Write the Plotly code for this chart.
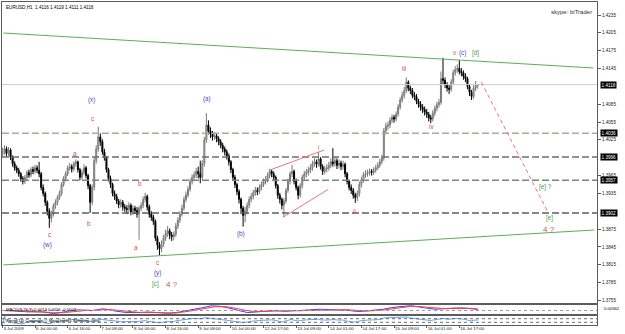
import plotly.graph_objects as go
import pandas as pd

W, H = 625, 334

# ---------------- data (EURUSD H1) ----------------
bar_open = [
 1.4000, 1.4005, 1.4010, 1.4002, 1.4008, 1.3996, 1.3985, 1.3978, 1.3974, 1.3968,
 1.3960, 1.3955, 1.3962, 1.3970, 1.3966, 1.3975, 1.3972, 1.3978, 1.3974, 1.3968,
 1.3945, 1.3935, 1.3920, 1.3905, 1.3893, 1.3900, 1.3914, 1.3920, 1.3928, 1.3935,
 1.3950, 1.3960, 1.3968, 1.3978, 1.3980, 1.3976, 1.3985, 1.3988, 1.3975, 1.3962,
 1.3970, 1.3978, 1.3965, 1.3948, 1.3920, 1.3945, 1.3990, 1.4010, 1.4030, 1.4022,
 1.4005, 1.3995, 1.3975, 1.3960, 1.3950, 1.3935, 1.3930, 1.3922, 1.3916, 1.3920,
 1.3912, 1.3910, 1.3908, 1.3915, 1.3904, 1.3910, 1.3906, 1.3900, 1.3910, 1.3915,
 1.3925, 1.3930, 1.3912, 1.3900, 1.3895, 1.3888, 1.3860, 1.3848, 1.3842, 1.3850,
 1.3860, 1.3868, 1.3872, 1.3865, 1.3862, 1.3866, 1.3880, 1.3890, 1.3900, 1.3910,
 1.3925, 1.3932, 1.3942, 1.3955, 1.3962, 1.3966, 1.3972, 1.3968, 1.3962, 1.3985,
 1.4025, 1.4050, 1.4040, 1.4035, 1.4030, 1.4032, 1.4027, 1.4022, 1.4016, 1.4010,
 1.4005, 1.3998, 1.3988, 1.3975, 1.3962, 1.3950, 1.3938, 1.3925, 1.3910, 1.3898,
 1.3905, 1.3915, 1.3925, 1.3930, 1.3936, 1.3940, 1.3938, 1.3945, 1.3950, 1.3955,
 1.3958, 1.3965, 1.3972, 1.3968, 1.3962, 1.3948, 1.3932, 1.3925, 1.3915, 1.3922,
 1.3940, 1.3955, 1.3968, 1.3972, 1.3955, 1.3945, 1.3932, 1.3948, 1.3962, 1.3968,
 1.3970, 1.3974, 1.3978, 1.3985, 1.3988, 1.3984, 1.3993, 1.3980, 1.3972, 1.3976,
 1.3978, 1.3982, 1.3988, 1.3985, 1.3990, 1.3982, 1.3986, 1.3980, 1.3984, 1.3968,
 1.3955, 1.3945, 1.3940, 1.3932, 1.3928, 1.3935, 1.3950, 1.3958, 1.3966, 1.3968,
 1.3970, 1.3972, 1.3970, 1.3974, 1.3978, 1.3982, 1.3988, 1.3995, 1.4040, 1.4048,
 1.4050, 1.4058, 1.4063, 1.4060, 1.4068, 1.4080, 1.4092, 1.4100, 1.4108, 1.4122,
 1.4112, 1.4108, 1.4100, 1.4098, 1.4090, 1.4085, 1.4080, 1.4076, 1.4072, 1.4068,
 1.4062, 1.4060, 1.4070, 1.4078, 1.4084, 1.4088, 1.4128, 1.4125, 1.4118, 1.4112,
 1.4110, 1.4122, 1.4138, 1.4143, 1.4145, 1.4140, 1.4138, 1.4132, 1.4128, 1.4115,
 1.4105, 1.4098, 1.4112, 1.4116]

bar_high = [
 1.4012, 1.4016, 1.4014, 1.4013, 1.4011, 1.3999, 1.3989, 1.3982, 1.3978, 1.3971,
 1.3964, 1.3966, 1.3974, 1.3975, 1.3979, 1.3980, 1.3983, 1.3982, 1.3988, 1.3971,
 1.3950, 1.3938, 1.3923, 1.3910, 1.3906, 1.3918, 1.3925, 1.3932, 1.3940, 1.3954,
 1.3964, 1.3972, 1.3982, 1.3986, 1.3984, 1.3989, 1.3992, 1.3990, 1.3978, 1.3975,
 1.3984, 1.3981, 1.3968, 1.3951, 1.3950, 1.3995, 1.4016, 1.4047, 1.4036, 1.4026,
 1.4010, 1.3998, 1.3978, 1.3965, 1.3953, 1.3940, 1.3934, 1.3926, 1.3925, 1.3924,
 1.3917, 1.3915, 1.3920, 1.3918, 1.3915, 1.3914, 1.3912, 1.3914, 1.3920, 1.3930,
 1.3936, 1.3933, 1.3916, 1.3905, 1.3899, 1.3891, 1.3864, 1.3853, 1.3856, 1.3865,
 1.3874, 1.3880, 1.3876, 1.3870, 1.3871, 1.3885, 1.3895, 1.3905, 1.3916, 1.3930,
 1.3938, 1.3947, 1.3960, 1.3967, 1.3972, 1.3978, 1.3980, 1.3990, 1.3991, 1.4030,
 1.4070, 1.4058, 1.4046, 1.4040, 1.4038, 1.4036, 1.4031, 1.4026, 1.4020, 1.4014,
 1.4009, 1.4002, 1.3991, 1.3978, 1.3966, 1.3953, 1.3942, 1.3928, 1.3914, 1.3912,
 1.3920, 1.3930, 1.3936, 1.3941, 1.3946, 1.3945, 1.3950, 1.3955, 1.3960, 1.3964,
 1.3970, 1.3976, 1.3975, 1.3972, 1.3965, 1.3951, 1.3936, 1.3928, 1.3927, 1.3944,
 1.3960, 1.3972, 1.3983, 1.3975, 1.3960, 1.3948, 1.3952, 1.3966, 1.3973, 1.3976,
 1.3980, 1.3984, 1.3990, 1.3994, 1.3992, 1.4005, 1.3996, 1.3984, 1.3981, 1.3984,
 1.3988, 1.3994, 1.4011, 1.3996, 1.3994, 1.3992, 1.3990, 1.3990, 1.3987, 1.3971,
 1.3958, 1.3950, 1.3944, 1.3936, 1.3940, 1.3955, 1.3963, 1.3971, 1.3974, 1.3975,
 1.3977, 1.3976, 1.3979, 1.3983, 1.3987, 1.3993, 1.4000, 1.4045, 1.4054, 1.4056,
 1.4063, 1.4068, 1.4067, 1.4073, 1.4085, 1.4097, 1.4106, 1.4114, 1.4130, 1.4125,
 1.4116, 1.4112, 1.4105, 1.4102, 1.4094, 1.4090, 1.4085, 1.4081, 1.4077, 1.4072,
 1.4067, 1.4075, 1.4083, 1.4089, 1.4094, 1.4140, 1.4163, 1.4130, 1.4122, 1.4117,
 1.4127, 1.4143, 1.4149, 1.4152, 1.4159, 1.4146, 1.4142, 1.4137, 1.4131, 1.4119,
 1.4109, 1.4117, 1.4124, 1.4119]

bar_low = [
 1.3995, 1.4000, 1.3997, 1.3998, 1.3991, 1.3980, 1.3973, 1.3969, 1.3963, 1.3955,
 1.3950, 1.3951, 1.3958, 1.3961, 1.3962, 1.3967, 1.3968, 1.3969, 1.3962, 1.3940,
 1.3930, 1.3914, 1.3898, 1.3877, 1.3886, 1.3896, 1.3909, 1.3915, 1.3924, 1.3931,
 1.3946, 1.3955, 1.3964, 1.3973, 1.3970, 1.3972, 1.3980, 1.3970, 1.3957, 1.3958,
 1.3966, 1.3960, 1.3942, 1.3902, 1.3915, 1.3940, 1.3985, 1.4005, 1.4015, 1.4000,
 1.3990, 1.3970, 1.3955, 1.3944, 1.3930, 1.3924, 1.3917, 1.3910, 1.3911, 1.3906,
 1.3904, 1.3900, 1.3903, 1.3898, 1.3899, 1.3900, 1.3894, 1.3857, 1.3905, 1.3910,
 1.3920, 1.3906, 1.3894, 1.3889, 1.3882, 1.3855, 1.3840, 1.3831, 1.3836, 1.3845,
 1.3855, 1.3862, 1.3858, 1.3855, 1.3856, 1.3862, 1.3875, 1.3885, 1.3896, 1.3906,
 1.3920, 1.3928, 1.3938, 1.3950, 1.3957, 1.3961, 1.3960, 1.3952, 1.3958, 1.3980,
 1.4020, 1.4034, 1.4028, 1.4024, 1.4025, 1.4021, 1.4016, 1.4011, 1.4004, 1.3999,
 1.3992, 1.3982, 1.3969, 1.3956, 1.3944, 1.3932, 1.3918, 1.3900, 1.3879, 1.3886,
 1.3900, 1.3910, 1.3920, 1.3925, 1.3931, 1.3932, 1.3934, 1.3940, 1.3946, 1.3950,
 1.3953, 1.3960, 1.3962, 1.3956, 1.3943, 1.3926, 1.3918, 1.3908, 1.3895, 1.3918,
 1.3936, 1.3950, 1.3962, 1.3950, 1.3940, 1.3925, 1.3928, 1.3943, 1.3957, 1.3962,
 1.3965, 1.3969, 1.3973, 1.3980, 1.3978, 1.3980, 1.3975, 1.3966, 1.3967, 1.3970,
 1.3973, 1.3977, 1.3980, 1.3980, 1.3976, 1.3977, 1.3974, 1.3975, 1.3962, 1.3950,
 1.3940, 1.3934, 1.3926, 1.3919, 1.3922, 1.3930, 1.3945, 1.3953, 1.3961, 1.3963,
 1.3965, 1.3965, 1.3966, 1.3970, 1.3974, 1.3978, 1.3984, 1.3990, 1.4034, 1.4042,
 1.4045, 1.4053, 1.4054, 1.4056, 1.4064, 1.4076, 1.4088, 1.4095, 1.4104, 1.4107,
 1.4102, 1.4095, 1.4092, 1.4085, 1.4079, 1.4074, 1.4070, 1.4066, 1.4062, 1.4056,
 1.4053, 1.4056, 1.4065, 1.4073, 1.4079, 1.4084, 1.4118, 1.4112, 1.4106, 1.4102,
 1.4106, 1.4118, 1.4133, 1.4138, 1.4135, 1.4132, 1.4126, 1.4122, 1.4110, 1.4099,
 1.4092, 1.4094, 1.4107, 1.4111]

bar_close = [
 1.4005, 1.4010, 1.4002, 1.4008, 1.3996, 1.3985, 1.3978, 1.3974, 1.3968, 1.3960,
 1.3955, 1.3962, 1.3970, 1.3966, 1.3975, 1.3972, 1.3978, 1.3974, 1.3968, 1.3945,
 1.3935, 1.3920, 1.3905, 1.3893, 1.3900, 1.3914, 1.3920, 1.3928, 1.3935, 1.3950,
 1.3960, 1.3968, 1.3978, 1.3980, 1.3976, 1.3985, 1.3988, 1.3975, 1.3962, 1.3970,
 1.3978, 1.3965, 1.3948, 1.3920, 1.3945, 1.3990, 1.4010, 1.4030, 1.4022, 1.4005,
 1.3995, 1.3975, 1.3960, 1.3950, 1.3935, 1.3930, 1.3922, 1.3916, 1.3920, 1.3912,
 1.3910, 1.3908, 1.3915, 1.3904, 1.3910, 1.3906, 1.3900, 1.3910, 1.3915, 1.3925,
 1.3930, 1.3912, 1.3900, 1.3895, 1.3888, 1.3860, 1.3848, 1.3842, 1.3850, 1.3860,
 1.3868, 1.3872, 1.3865, 1.3862, 1.3866, 1.3880, 1.3890, 1.3900, 1.3910, 1.3925,
 1.3932, 1.3942, 1.3955, 1.3962, 1.3966, 1.3972, 1.3968, 1.3962, 1.3985, 1.4025,
 1.4050, 1.4040, 1.4035, 1.4030, 1.4032, 1.4027, 1.4022, 1.4016, 1.4010, 1.4005,
 1.3998, 1.3988, 1.3975, 1.3962, 1.3950, 1.3938, 1.3925, 1.3910, 1.3898, 1.3905,
 1.3915, 1.3925, 1.3930, 1.3936, 1.3940, 1.3938, 1.3945, 1.3950, 1.3955, 1.3958,
 1.3965, 1.3972, 1.3968, 1.3962, 1.3948, 1.3932, 1.3925, 1.3915, 1.3922, 1.3940,
 1.3955, 1.3968, 1.3972, 1.3955, 1.3945, 1.3932, 1.3948, 1.3962, 1.3968, 1.3970,
 1.3974, 1.3978, 1.3985, 1.3988, 1.3984, 1.3993, 1.3980, 1.3972, 1.3976, 1.3978,
 1.3982, 1.3988, 1.3985, 1.3990, 1.3982, 1.3986, 1.3980, 1.3984, 1.3968, 1.3955,
 1.3945, 1.3940, 1.3932, 1.3928, 1.3935, 1.3950, 1.3958, 1.3966, 1.3968, 1.3970,
 1.3972, 1.3970, 1.3974, 1.3978, 1.3982, 1.3988, 1.3995, 1.4040, 1.4048, 1.4050,
 1.4058, 1.4063, 1.4060, 1.4068, 1.4080, 1.4092, 1.4100, 1.4108, 1.4122, 1.4112,
 1.4108, 1.4100, 1.4098, 1.4090, 1.4085, 1.4080, 1.4076, 1.4072, 1.4068, 1.4062,
 1.4060, 1.4070, 1.4078, 1.4084, 1.4088, 1.4128, 1.4125, 1.4118, 1.4112, 1.4110,
 1.4122, 1.4138, 1.4143, 1.4145, 1.4140, 1.4138, 1.4132, 1.4128, 1.4115, 1.4105,
 1.4098, 1.4112, 1.4116, 1.4118]

time_labels = ["3 Jul 2009", "6 Jul 00:00", "6 Jul 16:00", "7 Jul 08:00", "8 Jul 00:00",
               "8 Jul 16:00", "9 Jul 08:00", "10 Jul 00:00", "12 Jul 17:00", "13 Jul 09:00",
               "14 Jul 01:00", "14 Jul 17:00", "15 Jul 09:00", "16 Jul 01:00", "16 Jul 17:00"]
time_label_bars = [0, 16, 32, 48, 64, 80, 96, 112, 128, 144, 160, 176, 192, 208, 224]

price_ticks = [1.4235, 1.4205, 1.4175, 1.4145, 1.4085, 1.4055, 1.4025, 1.3965,
               1.3935, 1.3875, 1.3845, 1.3815, 1.3785, 1.3755]

level_prices = [1.4036, 1.3996, 1.3957, 1.3902]
level_colors = ["#a9a9a0", "#6e6e6e", "#808080", "#5e5e5e"]
bid_price = 1.4118

channel_upper_bars = [0.5, 289.7]
channel_upper_prices = [1.42047, 1.41459]
channel_lower_bars = [0.5, 290.2]
channel_lower_prices = [1.38146, 1.38734]
triangle_upper_bars = [130.9, 157.8]
triangle_upper_prices = [1.3974, 1.4008]
triangle_lower_bars = [137.7, 159.8]
triangle_lower_prices = [1.3895, 1.3942]
projection_bars = [234.8, 267.6]
projection_prices = [1.4122, 1.3902]

header_text = "EURUSD,H1  1.4116 1.4119 1.4111 1.4118"

# ---------------- layout helpers ----------------
def fx(px):
    return px / W

def fy(py):
    return 1 - py / H

BLUE = "#4646cc"
RED = "#d24c4c"
GREEN = "#3a9e3a"
FONT = "Liberation Sans"

bars = list(range(len(bar_close)))
xdom = [fx(2), fx(597)]
xrange_ = [-0.2, 291.5]
price_range = [1.37506, 1.42569]

# indicators derived from the close series
cs = pd.Series(bar_close)
macd_line = cs.ewm(span=12, adjust=False).mean() - cs.ewm(span=26, adjust=False).mean()
macd_signal = macd_line.ewm(span=9, adjust=False).mean()
delta = cs.diff().fillna(0)
gain = delta.clip(lower=0).ewm(alpha=1 / 14, adjust=False).mean()
loss = (-delta.clip(upper=0)).ewm(alpha=1 / 14, adjust=False).mean()
rsi = 100 - 100 / (1 + gain / loss.replace(0, 1e-9))

fig = go.Figure()
fig.add_trace(go.Candlestick(
    x=bars, open=bar_open, high=bar_high, low=bar_low, close=bar_close,
    xaxis="x", yaxis="y", whiskerwidth=0, hoverinfo="skip",
    increasing=dict(line=dict(color="#7a7a7a", width=1), fillcolor="#c4c4c4"),
    decreasing=dict(line=dict(color="#000000", width=1), fillcolor="#000000"),
))
fig.add_trace(go.Scatter(x=bars, y=macd_line, mode="lines", xaxis="x2", yaxis="y2",
                         line=dict(color="#3c3cff", width=1), hoverinfo="skip"))
fig.add_trace(go.Scatter(x=bars, y=macd_signal, mode="lines", xaxis="x2", yaxis="y2",
                         line=dict(color="#ff3c3c", width=1), hoverinfo="skip"))
fig.add_trace(go.Scatter(x=bars, y=rsi, mode="lines", xaxis="x3", yaxis="y3",
                         line=dict(color="#62a6e8", width=1), hoverinfo="skip"))

shapes = []
# bid line
shapes.append(dict(type="line", xref="paper", yref="y", x0=xdom[0], x1=xdom[1],
                   y0=bid_price, y1=bid_price, line=dict(color="#c9c9dc", width=1)))
for p, c in zip(level_prices, level_colors):
    shapes.append(dict(type="line", xref="paper", yref="y", x0=xdom[0], x1=xdom[1],
                       y0=p, y1=p, line=dict(color=c, width=1.5, dash="7px,3px")))
for bx, py in [(channel_upper_bars, channel_upper_prices), (channel_lower_bars, channel_lower_prices)]:
    shapes.append(dict(type="line", xref="x", yref="y", x0=bx[0], x1=bx[1], y0=py[0], y1=py[1],
                       line=dict(color="#58b058", width=1)))
for bx, py in [(triangle_upper_bars, triangle_upper_prices), (triangle_lower_bars, triangle_lower_prices)]:
    shapes.append(dict(type="line", xref="x", yref="y", x0=bx[0], x1=bx[1], y0=py[0], y1=py[1],
                       line=dict(color="#e07a7a", width=1)))
shapes.append(dict(type="line", xref="x", yref="y", x0=projection_bars[0], x1=projection_bars[1],
                   y0=projection_prices[0], y1=projection_prices[1],
                   line=dict(color="#e07a7a", width=1, dash="4px,3px")))
# indicator levels
shapes.append(dict(type="line", xref="paper", yref="y2", x0=xdom[0], x1=xdom[1], y0=0, y1=0,
                   line=dict(color="#9a9a9a", width=1, dash="dot")))
for lv in [70, 30]:
    shapes.append(dict(type="line", xref="paper", yref="y3", x0=xdom[0], x1=xdom[1], y0=lv, y1=lv,
                       line=dict(color="#6a6a6a", width=1, dash="dot")))

annotations = []
def txt(t, xp, yp, color, size=6.3, xanchor="center"):
    annotations.append(dict(text=t, x=fx(xp), y=fy(yp), xref="paper", yref="paper",
                            showarrow=False, xanchor=xanchor, yanchor="middle",
                            font=dict(family=FONT, size=size, color=color)))

# wave labels
txt("(x)", 91, 100, BLUE)
txt("c", 92, 118, RED)
txt("a", 75, 153, RED)
txt("b", 89, 223, RED)
txt("c", 49, 234, RED)
txt("(w)", 48, 245, BLUE)
txt("b", 140, 183, RED)
txt("a", 136, 247, RED)
txt("c", 157, 262, RED)
txt("(y)", 157, 273, BLUE)
txt("[c]", 155, 284, GREEN)
txt("4 ?", 172, 284, RED, 8)
txt("(a)", 207, 99, BLUE)
txt("(b)", 241, 234, BLUE)
txt("i", 318, 148, RED)
txt("ii", 355, 211, RED)
txt("iii", 404, 68, RED)
txt("iv", 431, 127, RED)
txt("v", 455, 53, RED)
txt("(c)", 462, 53, BLUE)
txt("[d]", 475, 53, GREEN)
txt("[e] ?", 545, 187, GREEN)
txt("[e]", 549, 218, GREEN)
txt("4 ?", 549, 229, RED, 8)

txt(header_text, 4, 8, "#000000", 4.6, "left")
txt("skype: biTrader", 594, 12, "#303030", 6, "right")
txt("MACD(9,26,9) 0.0013 0.0016 -0.0003", 4, 309, "#000000", 4.2, "left")
txt("Trend(14) Copyright \u00a9 MetaQuotes Software Corp.", 4, 320, "#000000", 4.2, "left")
txt("0.00562", 602, 308, "#000000", 4.2, "left")

# highlighted price labels
for p in [bid_price] + level_prices:
    annotations.append(dict(text=f"{p:.4f}", x=fx(600), y=p, xref="paper", yref="y",
                            showarrow=False, xanchor="left", yanchor="middle",
                            bgcolor="#000000", borderpad=0.6,
                            font=dict(family=FONT, size=4.6, color="#ffffff")))

axis_common = dict(showgrid=False, zeroline=False, showline=True, mirror=True,
                   linecolor="#5c5c5c", linewidth=1, fixedrange=True, automargin=False)

fig.update_layout(
    width=W, height=H, margin=dict(l=0, r=0, t=0, b=0, pad=0, autoexpand=False),
    paper_bgcolor="#ffffff", plot_bgcolor="#ffffff", showlegend=False,
    hovermode=False, dragmode=False,
    xaxis=dict(domain=xdom, range=xrange_, anchor="y", showticklabels=False,
               rangeslider=dict(visible=False), **axis_common),
    xaxis2=dict(domain=xdom, range=xrange_, anchor="y2", matches="x", showticklabels=False,
                **axis_common),
    xaxis3=dict(domain=xdom, range=xrange_, anchor="y3", matches="x",
                tickmode="array", tickvals=time_label_bars, ticktext=time_labels,
                ticks="outside", ticklen=2, tickcolor="#5c5c5c", tickangle=0,
                ticklabelposition="outside right", ticklabelstandoff=-1,
                tickfont=dict(family=FONT, size=4.4, color="#202020"), **axis_common),
    yaxis=dict(domain=[fy(303), fy(2)], range=price_range, anchor="x", side="right",
               tickmode="array", tickvals=price_ticks, tickformat=".4f",
               ticks="outside", ticklen=3, tickcolor="#5c5c5c",
               tickfont=dict(family=FONT, size=4.6, color="#202020"),
               **axis_common),
    yaxis2=dict(domain=[fy(314), fy(305)], anchor="x2", side="right", showticklabels=False,
                range=[float(min(macd_line.min(), macd_signal.min())) * 1.15,
                       float(max(macd_line.max(), macd_signal.max())) * 1.15],
                **axis_common),
    yaxis3=dict(domain=[fy(325), fy(316)], anchor="x3", side="right", range=[0, 100],
                showticklabels=False, **axis_common),
    shapes=shapes, annotations=annotations,
)

fig.write_html("out.html")
